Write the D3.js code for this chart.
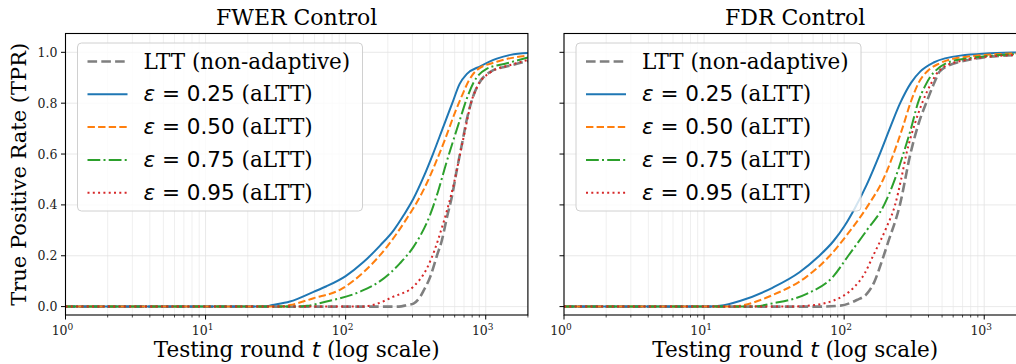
<!DOCTYPE html>
<html>
<head>
<meta charset="utf-8">
<script src="https://cdn.jsdelivr.net/npm/d3@7"></script>
<style>
  body { margin: 0; background: #fff; }
  svg { display: block; }
</style>
</head>
<body>
<svg id="chart" width="1016" height="364"></svg>
<script>
// values, [round t, TPR]
var fwer_ltt = [[1,0],[240,0],[274,0.006],[305,0.012],[341,0.039],[357,0.059],[402,0.118],[448,0.2],[486,0.26],[528,0.35],[577,0.44],[623,0.54],[677,0.64],[735,0.74],[817,0.83],[888,0.875],[1086,0.924],[1497,0.948],[2000,0.966]];
var fwer_e25 = [[1,0],[26,0],[30,0.006],[40,0.02],[59,0.058],[73,0.08],[100,0.12],[134,0.175],[176,0.24],[220,0.3],[260,0.36],[305,0.425],[360,0.51],[420,0.6],[500,0.71],[577,0.8],[650,0.875],[734,0.915],[914,0.945],[1200,0.975],[1500,0.99],[2000,0.997]];
var fwer_e50 = [[1,0],[33,0],[40,0.006],[59,0.033],[91,0.066],[134,0.135],[197,0.235],[272,0.345],[330,0.42],[383,0.49],[450,0.58],[514,0.66],[600,0.76],[677,0.83],[760,0.89],[862,0.93],[1200,0.963],[2000,0.987]];
var fwer_e75 = [[1,0],[45,0],[53,0.003],[73,0.02],[127,0.059],[176,0.1],[244,0.17],[305,0.235],[342,0.28],[400,0.36],[455,0.45],[520,0.56],[584,0.65],[650,0.73],[735,0.82],[817,0.88],[1014,0.935],[1418,0.957],[2000,0.98]];
var fwer_e95 = [[1,0],[130,0],[158,0.007],[219,0.039],[305,0.079],[380,0.15],[430,0.22],[480,0.3],[530,0.38],[590,0.48],[656,0.6],[735,0.73],[775,0.79],[862,0.86],[1086,0.922],[1497,0.95],[2000,0.97]];

var fdr_ltt = [[1,0],[70,0],[94,0.004],[123,0.026],[145,0.05],[165,0.1],[181,0.16],[205,0.25],[250,0.4],[297,0.6],[340,0.72],[391,0.81],[440,0.88],[482,0.925],[674,0.963],[1600,0.989],[2000,0.99]];
var fdr_e25 = [[1,0],[11,0],[13,0.003],[18,0.022],[31,0.075],[48,0.135],[65,0.195],[84,0.258],[100,0.315],[120,0.39],[145,0.48],[181,0.605],[215,0.71],[251,0.8],[300,0.88],[350,0.925],[435,0.96],[674,0.987],[1600,0.999],[2000,1.0]];
var fdr_e50 = [[1,0],[16,0],[18,0.003],[31,0.046],[54,0.118],[79,0.2],[104,0.28],[149,0.4],[190,0.5],[225,0.6],[260,0.7],[297,0.8],[340,0.88],[400,0.93],[482,0.957],[750,0.983],[2000,0.997]];
var fdr_e75 = [[1,0],[22,0],[31,0.013],[54,0.05],[84,0.12],[107,0.2],[145,0.3],[193,0.4],[230,0.5],[264,0.6],[300,0.7],[336,0.8],[380,0.87],[435,0.92],[640,0.97],[2000,0.995]];
var fdr_e95 = [[1,0],[40,0],[54,0.003],[84,0.024],[117,0.075],[140,0.13],[161,0.2],[200,0.31],[231,0.4],[255,0.5],[278,0.6],[320,0.72],[360,0.8],[420,0.88],[470,0.924],[640,0.963],[1600,0.989],[2000,0.99]];

var panel_titles = ["FWER Control", "FDR Control"];
var series_names = ["LTT (non-adaptive)", "0.25", "0.50", "0.75", "0.95"];
var y_ticks = [0.0, 0.2, 0.4, 0.6, 0.8, 1.0];
var x_ticks = [1, 10, 100, 1000];
var x_tick_exp = ["0", "1", "2", "3"];

var panel_data = [
    [fwer_ltt, fwer_e25, fwer_e50, fwer_e75, fwer_e95],
    [fdr_ltt, fdr_e25, fdr_e50, fdr_e75, fdr_e95]
];

// styles per series (gray dashed, blue, orange dashed, green dash-dot, red dotted)
var line_colors = ["#7f7f7f", "#1f77b4", "#ff7f0e", "#2ca02c", "#d62728"];
var line_widths = [2.6, 2, 2, 2, 2];
var line_dashes = ["9.6,4.2", null, "7.4,3.2", "12.8,3.2,2,3.2", "2,3.3"];

var serif = "DejaVu Serif";
var sans = "DejaVu Sans";

var panel_left = [65.5, 564];
var axis_width = 462.4;
var axis_top = 33.5;
var axis_bottom = 315;

var svg = d3.select("#chart").style("font-family", serif);

var y = d3.scaleLinear().domain([-0.033, 1.074]).range([axis_bottom, axis_top]);

panel_data.forEach((series, p) => {
    var left = panel_left[p];
    var x = d3.scaleLog().domain([1, 2000]).range([left, left + axis_width]);
    var g = svg.append("g");

    g.append("clipPath").attr("id", "clip" + p)
        .append("rect")
        .attr("x", left).attr("y", axis_top)
        .attr("width", axis_width).attr("height", axis_bottom - axis_top);

    // minor x grid
    var minor = [];
    for (var d = 1; d < 2000; d *= 10)
        for (var k = 2; k <= 9; k++)
            if (d * k <= 2000) minor.push(d * k);

    g.selectAll(".xminor").data(minor).enter().append("line")
        .attr("x1", d => x(d)).attr("x2", d => x(d))
        .attr("y1", axis_top).attr("y2", axis_bottom)
        .attr("stroke", "#ebebeb").attr("stroke-width", 0.8);

    g.selectAll(".xmajor").data(x_ticks).enter().append("line")
        .attr("x1", d => x(d)).attr("x2", d => x(d))
        .attr("y1", axis_top).attr("y2", axis_bottom)
        .attr("stroke", "#e3e3e3").attr("stroke-width", 0.8);

    g.selectAll(".ymajor").data(y_ticks).enter().append("line")
        .attr("x1", left).attr("x2", left + axis_width)
        .attr("y1", d => y(d)).attr("y2", d => y(d))
        .attr("stroke", "#e3e3e3").attr("stroke-width", 0.8);

    var line = d3.line()
        .x(d => x(d[0]))
        .y(d => y(d[1]))
        .curve(d3.curveMonotoneX);

    series.forEach((s, i) => {
        g.append("path")
            .attr("d", line(s))
            .attr("clip-path", "url(#clip" + p + ")")
            .attr("fill", "none")
            .attr("stroke", line_colors[i])
            .attr("stroke-width", line_widths[i])
            .attr("stroke-dasharray", line_dashes[i]);
    });

    // spines
    g.append("rect")
        .attr("x", left).attr("y", axis_top)
        .attr("width", axis_width).attr("height", axis_bottom - axis_top)
        .attr("fill", "none").attr("stroke", "#000").attr("stroke-width", 1.1);

    // x ticks
    g.selectAll(".xt").data(x_ticks).enter().append("line")
        .attr("x1", d => x(d)).attr("x2", d => x(d))
        .attr("y1", axis_bottom).attr("y2", axis_bottom + 4.5)
        .attr("stroke", "#000").attr("stroke-width", 1);
    g.selectAll(".xmt").data(minor).enter().append("line")
        .attr("x1", d => x(d)).attr("x2", d => x(d))
        .attr("y1", axis_bottom).attr("y2", axis_bottom + 2.5)
        .attr("stroke", "#000").attr("stroke-width", 0.7);

    var xl = g.selectAll(".xl").data(x_ticks).enter().append("text")
        .attr("x", d => x(d) - 3)
        .attr("y", axis_bottom + 20)
        .attr("text-anchor", "middle")
        .attr("font-size", 12.5)
        .attr("fill", "#222");
    xl.append("tspan").text("10");
    xl.append("tspan").attr("dy", -5).attr("font-size", 9).text((d, i) => x_tick_exp[i]);

    // y ticks
    g.selectAll(".yt").data(y_ticks).enter().append("line")
        .attr("x1", left - 4.5).attr("x2", left)
        .attr("y1", d => y(d)).attr("y2", d => y(d))
        .attr("stroke", "#000").attr("stroke-width", 1);

    if (p == 0) {
        g.selectAll(".yl").data(y_ticks).enter().append("text")
            .attr("x", left - 8)
            .attr("y", d => y(d) + 4.5)
            .attr("text-anchor", "end")
            .attr("font-size", 12.5)
            .attr("fill", "#222")
            .text(d => d.toFixed(1));

        g.append("text")
            .attr("transform", "translate(26," + ((axis_top + axis_bottom) / 2) + ") rotate(-90)")
            .attr("text-anchor", "middle")
            .attr("font-size", 21)
            .text("True Positive Rate (TPR)");
    }

    // title
    g.append("text")
        .attr("x", left + axis_width / 2)
        .attr("y", 25)
        .attr("text-anchor", "middle")
        .attr("font-size", 22)
        .text(panel_titles[p]);

    // x label
    var xlab = g.append("text")
        .attr("x", left + axis_width / 2)
        .attr("y", 357)
        .attr("text-anchor", "middle")
        .attr("font-size", 21.5);
    xlab.append("tspan").text("Testing round ");
    xlab.append("tspan").style("font-family", sans).style("font-style", "italic").text("t");
    xlab.append("tspan").text(" (log scale)");

    // legend
    var lx = left + 12, ly = 43;
    var leg = g.append("g");
    leg.append("rect")
        .attr("x", lx).attr("y", ly)
        .attr("width", 285).attr("height", 168)
        .attr("rx", 4)
        .attr("fill", "#fff").attr("fill-opacity", 0.8)
        .attr("stroke", "#d0d0d0").attr("stroke-width", 1);

    series_names.forEach((name, i) => {
        var ry = ly + 18.5 + i * 32.8;
        leg.append("line")
            .attr("x1", lx + 10).attr("x2", lx + 50)
            .attr("y1", ry).attr("y2", ry)
            .attr("stroke", line_colors[i])
            .attr("stroke-width", line_widths[i])
            .attr("stroke-dasharray", line_dashes[i]);
        var t = leg.append("text")
            .attr("x", lx + 66)
            .attr("y", ry + 7)
            .attr("font-size", 21.5);
        if (i == 0) {
            t.text(name);
        } else {
            t.append("tspan").style("font-family", sans).style("font-style", "italic").text("ε");
            t.append("tspan").style("font-family", sans).text(" = " + name);
            t.append("tspan").text(" (aLTT)");
        }
    });
});
</script>
</body>
</html>
